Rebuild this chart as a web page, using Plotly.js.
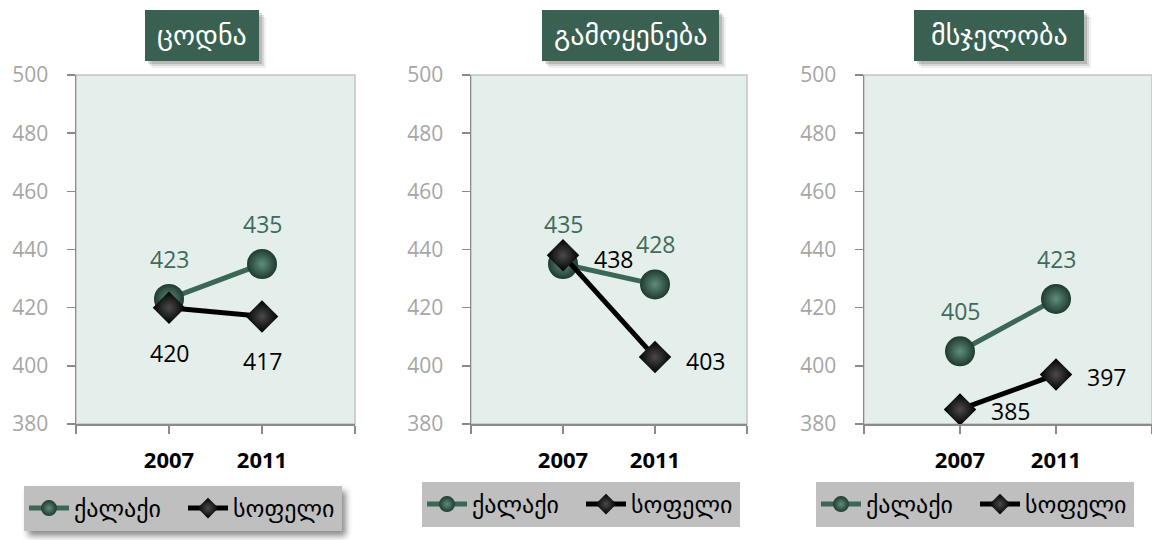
<!DOCTYPE html>
<html><head><meta charset="utf-8">
<script src="https://cdn.plot.ly/plotly-3.0.1.min.js"></script>
<style>html,body{margin:0;padding:0;background:#fff;}#chart{width:1152px;height:540px;}
.legend .bg{filter:drop-shadow(4px 5px 3px rgba(0,0,0,0.45));}
</style>
</head><body><div id="chart"></div>
<script>
// ---- data ----
const years = ['2007', '2011'];
const panelTitles = ['ცოდნა', 'გამოყენება', 'მსჯელობა'];
const seriesNames = ['ქალაქი', 'სოფელი'];
const cityValues = [[423, 435], [435, 428], [405, 423]];
const villageValues = [[420, 417], [438, 403], [385, 397]];
const yTicks = [380, 400, 420, 440, 460, 480, 500];

// ---- style / layout (pixels) ----
const W = 1152, H = 540;
const px = v => v / W, py = v => 1 - v / H;
const panels = [
  {left: 76, right: 355, title: [145, 259], legend: [24, 486], vShift: [0, -45]},
  {left: 471, right: 747, title: [542, 719], legend: [422, 482], vShift: [50, -4]},
  {left: 864, right: 1152, title: [914, 1084], legend: [816, 482], vShift: [50, -2]}
];
const plotTop = 75, plotBottom = 424;
const green = '#3C6757', greenText = '#3E6B5A', black = '#000000';
const numFont = 'Open Sans, Lato, sans-serif';
const geoFont = 'DejaVu Sans, sans-serif';

const traces = [], annotations = [], shapes = [];
const layout = {
  width: W, height: H, margin: {l: 0, r: 0, t: 0, b: 0},
  paper_bgcolor: '#ffffff', plot_bgcolor: '#E4EEEA', showlegend: true,
  font: {family: numFont}
};
const xIdx = years.map((y, i) => i);

panels.forEach((p, k) => {
  const sfx = k === 0 ? '' : String(k + 1);
  const xa = 'x' + sfx, ya = 'y' + sfx, lg = 'legend' + sfx;
  layout['xaxis' + sfx] = {
    domain: [px(p.left), px(p.right)], anchor: ya, range: [-1, years.length],
    tickmode: 'array', tickvals: [-1, ...xIdx, years.length], ticktext: ['', ...years, ''],
    ticks: 'outside', ticklen: 8, tickcolor: '#8A8A8A', tickwidth: 1.5,
    showline: true, linecolor: '#8A8A8A', linewidth: 1.5, showgrid: false, zeroline: false,
    tickfont: {family: numFont, size: 22, color: '#000', weight: 'bold'}, ticklabelstandoff: 8,
    fixedrange: true
  };
  layout['yaxis' + sfx] = {
    domain: [py(plotBottom), py(plotTop)], anchor: xa, range: [380, 500],
    tickmode: 'array', tickvals: yTicks,
    ticks: 'outside', ticklen: 8, tickcolor: '#8A8A8A', tickwidth: 1.5,
    showline: true, linecolor: '#8A8A8A', linewidth: 1.5, showgrid: false, zeroline: false,
    tickfont: {family: numFont, size: 21, color: '#A6A6A6'}, ticklabelstandoff: 14,
    fixedrange: true
  };
  // plot border (top/right light grey)
  shapes.push({type: 'rect', xref: xa + ' domain', yref: ya + ' domain', x0: 0, x1: 1, y0: 0, y1: 1,
    line: {color: '#C4C4C4', width: 1.5}, layer: 'below'});
  // title box with soft shadow
  [[7, 0.06], [5, 0.10], [3, 0.14]].forEach(([o, a]) => shapes.push({type: 'rect', xref: 'paper', yref: 'paper',
    x0: px(p.title[0] + o), x1: px(p.title[1] + o), y0: py(61 + o), y1: py(10 + o),
    fillcolor: 'rgba(0,0,0,' + a + ')', line: {width: 0}}));
  shapes.push({type: 'rect', xref: 'paper', yref: 'paper', x0: px(p.title[0]), x1: px(p.title[1]),
    y0: py(61), y1: py(10), fillcolor: '#396050', line: {width: 0}});
  annotations.push({xref: 'paper', yref: 'paper', x: px((p.title[0] + p.title[1]) / 2), y: py(36),
    xanchor: 'center', yanchor: 'middle', text: panelTitles[k], showarrow: false,
    font: {family: geoFont, size: 28, color: '#ffffff'}});
  layout[lg] = {
    x: px(p.legend[0]), y: py(p.legend[1]), xanchor: 'left', yanchor: 'top', orientation: 'h',
    bgcolor: '#BFBFBF', borderwidth: 0, font: {family: geoFont, size: 24, color: '#000'},
    itemwidth: 40, entrywidth: 104, tracegroupgap: 0, itemclick: false, itemdoubleclick: false
  };

  traces.push({
    type: 'scatter', mode: 'lines+markers', x: xIdx, y: cityValues[k], xaxis: xa, yaxis: ya,
    name: seriesNames[0], legend: lg, hoverinfo: 'skip',
    line: {color: green, width: 5},
    marker: {symbol: 'circle', size: 30, color: '#1F3A2F', gradient: {type: 'radial', color: '#5F8E7B'}, line: {width: 0}}
  });
  traces.push({
    type: 'scatter', mode: 'lines+markers', x: xIdx, y: villageValues[k], xaxis: xa, yaxis: ya,
    name: seriesNames[1], legend: lg, hoverinfo: 'skip',
    line: {color: black, width: 5},
    marker: {symbol: 'diamond', size: 25, color: '#000000', gradient: {type: 'radial', color: '#4A4A4A'}, line: {width: 0}}
  });
  cityValues[k].forEach((v, i) => annotations.push({
    xref: xa, yref: ya, x: xIdx[i], y: v, text: String(v), showarrow: false,
    xanchor: 'center', yanchor: 'middle', yshift: 40,
    font: {family: numFont, size: 23, color: greenText}
  }));
  villageValues[k].forEach((v, i) => annotations.push({
    xref: xa, yref: ya, x: xIdx[i], y: v, text: String(v), showarrow: false,
    xanchor: 'center', yanchor: 'middle', xshift: p.vShift[0], yshift: p.vShift[1],
    font: {family: numFont, size: 23, color: black}
  }));
});
layout.shapes = shapes;
layout.annotations = annotations;
Plotly.newPlot('chart', traces, layout, {displayModeBar: false, staticPlot: true});
</script></body></html>
